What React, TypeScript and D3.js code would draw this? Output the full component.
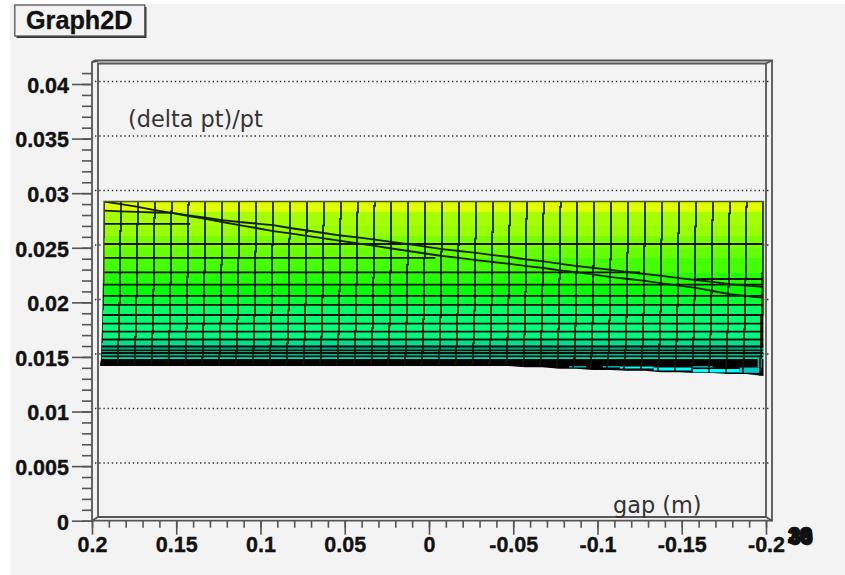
import { useEffect, useRef } from "react";
import * as d3 from "d3";

const width = 845;
const height = 575;

const titleText = "Graph2D";
const zAxisTitle = "(delta pt)/pt";
const gapAxisTitle = "gap (m)";
const depthLabels = ["30", "38", "36", "39", "33", "29", "35", "28"];
const depthShiftX = [0, 0.8, -0.6, 1.2, 0.4, -0.8, 1, 0.2];
const depthShiftY = [0, -0.8, 0.8, 0.4, -1.4, -0.4, 1.2, -1];

const zMajorTicks = [0, 0.005, 0.01, 0.015, 0.02, 0.025, 0.03, 0.035, 0.04];
const zMinorTicks = d3.range(0, 42).map(i => i / 1000);
const gapMajorTicks = [0.2, 0.15, 0.1, 0.05, 0, -0.05, -0.1, -0.15, -0.2];
const gapMinorTicks = d3.range(-20, 21).map(i => i / 100);

// grid columns of the surface
const gapValues = [
  0.19, 0.18, 0.17, 0.16, 0.15, 0.14, 0.13, 0.12, 0.11, 0.1,
  0.09, 0.08, 0.07, 0.06, 0.05, 0.04, 0.03, 0.02, 0.01, 0,
  -0.01, -0.02, -0.03, -0.04, -0.05, -0.06, -0.07, -0.08, -0.09, -0.1,
  -0.11, -0.12, -0.13, -0.14, -0.15, -0.16, -0.17, -0.18, -0.19, -0.2,
];

// the two sloped edges and the bottom edge of the sheet, in z
const upperEdge = [
  0.02899, 0.02876, 0.02849, 0.02821, 0.02794, 0.02771, 0.02752, 0.02729, 0.02711, 0.02697,
  0.02683, 0.02656, 0.02633, 0.0261, 0.02587, 0.02569, 0.0255, 0.02528, 0.02509, 0.02486,
  0.02463, 0.02445, 0.02427, 0.02408, 0.0239, 0.02367, 0.02349, 0.02326, 0.02307, 0.02289,
  0.02271, 0.02252, 0.02234, 0.02216, 0.02197, 0.02179, 0.02161, 0.02142, 0.02128, 0.02115,
];
const lowerEdge = [
  0.02815, 0.02809, 0.02803, 0.02798, 0.02794, 0.02766, 0.02739, 0.02711, 0.02683, 0.02656,
  0.02628, 0.02606, 0.02583, 0.0256, 0.02537, 0.02514, 0.02491, 0.02468, 0.02445, 0.02422,
  0.02399, 0.02381, 0.02362, 0.02344, 0.02326, 0.02307, 0.02289, 0.02266, 0.02248, 0.02229,
  0.02206, 0.02188, 0.0217, 0.02147, 0.02128, 0.02106, 0.02078, 0.0205, 0.02032, 0.02014,
];
const bottomEdge = [
  0.0139, 0.0139, 0.0139, 0.0139, 0.0139, 0.0139, 0.0139, 0.0139, 0.0139, 0.0139,
  0.0139, 0.0139, 0.0139, 0.0139, 0.0139, 0.0139, 0.0139, 0.0139, 0.0139, 0.0139,
  0.0139, 0.0139, 0.0139, 0.0139, 0.0139, 0.01378, 0.01378, 0.01365, 0.01365, 0.01353,
  0.01353, 0.01347, 0.01347, 0.01332, 0.01332, 0.01326, 0.01326, 0.01317, 0.01317, 0.01298,
];

// colour bands, each one runs from its z down to the next z
const bandZ = [
  0.02899, 0.02803, 0.02683, 0.02583, 0.02472, 0.02381, 0.02243, 0.02142, 0.02032, 0.0195,
  0.01858, 0.01775, 0.01702, 0.01628, 0.01583, 0.01537, 0.01509, 0.01477, 0.01454,
];
const bandColors = [
  "#e2ff00", "#a6ff00", "#99ff00", "#7aff00", "#66ff00", "#44ff00", "#22ff00", "#00ff00", "#00ff33",
  "#00ff66", "#00ff70", "#00ff80", "#00f884", "#00e08a", "#00a88c", "#00d8a0", "#00b8a0", "#00e0b0",
];

// mesh rows
const rowZ = [
  0.02693, 0.02509, 0.02381, 0.02248, 0.02188, 0.02136, 0.02034, 0.0195, 0.01858, 0.01778,
  0.01706, 0.01633, 0.01569, 0.01534, 0.01509, 0.01478,
];
const rowGapFrom = [0.19, 0.19, 0.19, 0.19, -0.161, 0.19, 0.19, 0.19, 0.19, 0.19, 0.19, 0.19, 0.19, 0.19, 0.19, 0.19];
const rowGapTo = [0.139, -0.2, -0.006, -0.127, -0.2, -0.2, -0.2, -0.2, -0.2, -0.2, -0.2, -0.2, -0.2, -0.2, -0.2, -0.2];

// cyan and teal bits under the black rows on the right
const patchFrom = [-0.085, -0.105, -0.115, -0.135, -0.158, -0.158, -0.186, -0.1965];
const patchTo = [-0.095, -0.115, -0.135, -0.158, -0.186, -0.17, -0.198, -0.199];
const patchTop = [0.0139, 0.0139, 0.01385, 0.01376, 0.01362, 0.0139, 0.01376, 0.0156];
const patchBottom = [0.01376, 0.01376, 0.01367, 0.01349, 0.01331, 0.01376, 0.01327, 0.01376];
const patchColor = ["#00b0b0", "#00b0b0", "#00ffff", "#00ffff", "#00ffff", "#00b0b0", "#00c8c8", "#00b8a0"];

const skewZ = [0.029, 0.019, 0.0145, 0.0139];
const skewPx = [0, -1.5, -3, -4];

const labelFont = "'Liberation Sans', Arial, sans-serif";
const plainFont = "'DejaVu Sans', sans-serif";
const axisColor = "#555";
const labelSize = "21.5px";

export default function App() {
  const ref = useRef<SVGSVGElement | null>(null);

  useEffect(() => {
    const svg = d3.select(ref.current!);
    svg.selectAll("*").remove();

    const zAxisScale = d3.scaleLinear().domain([0, 0.04]).range([520.7, 84]);
    const gapAxisScale = d3.scaleLinear().domain([0.2, -0.2]).range([92, 766]);
    // back wall sits a little higher than the axis
    const zScale = d3.scaleLinear().domain([0, 0.04]).range([517.5, 81.5]);
    const surfX = d3.scaleLinear().domain([0.19, -0.2]).range([104, 763.5]);
    const skew = d3.scaleLinear().domain(skewZ).range(skewPx).clamp(true);
    const colX = (gap: number, z: number) => Math.round(surfX(gap) + skew(z));

    svg.append("rect").attr("width", width).attr("height", height).attr("fill", "white");
    svg.append("rect").attr("x", 10).attr("y", 4)
      .attr("width", width - 10).attr("height", height - 4).attr("fill", "#f3f3f3");

    // dotted grid on the back wall
    svg.append("g").selectAll("line")
      .data(zMajorTicks.slice(1))
      .enter().append("line")
      .attr("x1", 95).attr("x2", 769)
      .attr("y1", d => zScale(d)).attr("y2", d => zScale(d))
      .attr("stroke", "#333")
      .attr("stroke-width", 1.3)
      .attr("stroke-dasharray", "1.4 2.8");

    // box
    const box = svg.append("g").attr("fill", "none").attr("stroke", axisColor).attr("stroke-width", 1.8);
    box.append("path").attr("d", "M98,517 V63.5 H766 V517 Z");
    box.append("path").attr("d", "M92,520.7 V62 L95,60.5 H772 V520.7 Z");
    box.append("path").attr("d", "M92,520.7 L98,517 M772,520.7 L766,517 M772,60.5 L766,63.5 M92,62 L98,61");

    // surface
    const topZ = bandZ[0];
    const outline = [
      ...bandZ.map(z => [surfX(0.19) + skew(z), zScale(z)]),
      [surfX(0.19) + skew(bottomEdge[0]), zScale(bottomEdge[0])],
      ...gapValues.map((g, i) => [surfX(g) + skew(bottomEdge[0]) * (1 - i / 39), zScale(bottomEdge[i])]),
      [surfX(-0.2), zScale(bottomEdge[39])],
      [surfX(-0.2), zScale(topZ)],
    ] as [number, number][];
    svg.append("clipPath").attr("id", "sheet")
      .append("path")
      .attr("d", d3.line().curve(d3.curveLinear)(outline));

    const sheet = svg.append("g").attr("clip-path", "url(#sheet)");
    sheet.append("rect")
      .attr("x", 95).attr("width", 680)
      .attr("y", zScale(bandZ[bandZ.length - 1]))
      .attr("height", 30)
      .attr("fill", "black");
    sheet.selectAll("rect.band")
      .data(bandColors)
      .enter().append("rect")
      .classed("band", true)
      .attr("x", 95).attr("width", 680)
      .attr("y", (_, i) => zScale(bandZ[i]))
      .attr("height", (_, i) => zScale(bandZ[i + 1]) - zScale(bandZ[i]))
      .attr("fill", d => d);
    sheet.selectAll("rect.patch")
      .data(patchColor)
      .enter().append("rect")
      .classed("patch", true)
      .attr("x", (_, i) => surfX(patchFrom[i]))
      .attr("width", (_, i) => surfX(patchTo[i]) - surfX(patchFrom[i]))
      .attr("y", (_, i) => zScale(patchTop[i]))
      .attr("height", (_, i) => zScale(patchBottom[i]) - zScale(patchTop[i]))
      .attr("fill", d => d);

    // rows
    sheet.selectAll("line.row")
      .data(rowZ)
      .enter().append("line")
      .classed("row", true)
      .attr("x1", (d, i) => surfX(rowGapFrom[i]) + skew(d))
      .attr("x2", (_, i) => surfX(rowGapTo[i]))
      .attr("y1", d => zScale(d))
      .attr("y2", d => zScale(d))
      .attr("stroke", "#041004")
      .attr("stroke-width", 1.8);

    // columns, the jogs come from rounding the skew to whole pixels
    const colLine = d3.line<[number, number]>()
      .x(d => colX(d[0], d[1]))
      .y(d => zScale(d[1]))
      .curve(d3.curveStepAfter);
    sheet.selectAll("path.col")
      .data(gapValues)
      .enter().append("path")
      .classed("col", true)
      .attr("d", (g, i) => colLine(
        d3.range(topZ, bottomEdge[i], -0.0001).map(z => [g, z] as [number, number])
      ))
      .attr("fill", "none")
      .attr("stroke", "#0c160a")
      .attr("stroke-width", 1.7);

    // black last column on the right
    sheet.append("line")
      .attr("x1", surfX(-0.2) - 1.7).attr("x2", surfX(-0.2) - 1.7)
      .attr("y1", zScale(0.01858)).attr("y2", zScale(0.0156))
      .attr("stroke", "black")
      .attr("stroke-width", 3.4);

    // sloped edges
    const edgeLine = d3.line<number>()
      .x((_, i) => surfX(gapValues[i]))
      .y(d => zScale(d));
    [upperEdge, lowerEdge].forEach(edge => {
      sheet.append("path")
        .attr("d", edgeLine(edge))
        .attr("fill", "none")
        .attr("stroke", "#102000")
        .attr("stroke-width", 1.8);
    });

    // gray rim of the sheet
    svg.append("path")
      .attr("d", `M${surfX(0.19)},${zScale(0.0215)} V${zScale(topZ)} H${surfX(-0.2)} V${zScale(0.0185)}`)
      .attr("fill", "none")
      .attr("stroke", "#4a5a20")
      .attr("stroke-width", 1.3);

    // axes
    const zAxisMinor = d3.axisLeft(zAxisScale).tickValues(zMinorTicks).tickSize(10).tickFormat(() => "");
    const zAxisMajor = d3.axisLeft(zAxisScale)
      .tickValues(zMajorTicks).tickSize(20).tickPadding(3)
      .tickFormat(d => String(+d));
    const gapAxisMinor = d3.axisBottom(gapAxisScale).tickValues(gapMinorTicks).tickSize(7).tickFormat(() => "");
    const gapAxisMajor = d3.axisBottom(gapAxisScale)
      .tickValues(gapMajorTicks).tickSize(14).tickPadding(2)
      .tickFormat(d => String(+d));

    const styleAxis = (g: d3.Selection<SVGGElement, unknown, null, undefined>) => {
      g.select(".domain").remove();
      g.selectAll("line").attr("stroke", axisColor).attr("stroke-width", 1.6);
      g.selectAll("text")
        .attr("fill", "#111")
        .attr("stroke", "#111")
        .attr("stroke-width", 0.35)
        .style("font-family", labelFont)
        .style("font-weight", "bold")
        .style("font-size", labelSize);
    };
    svg.append("g").attr("transform", "translate(92,0)").call(zAxisMinor).call(styleAxis);
    const zMajorGroup = svg.append("g").attr("transform", "translate(92,0)").call(zAxisMajor).call(styleAxis);
    zMajorGroup.selectAll("text").attr("dy", "0.39em");
    svg.append("g").attr("transform", "translate(0,520.7)").call(gapAxisMinor).call(styleAxis);
    svg.append("g").attr("transform", "translate(0,520.7)").call(gapAxisMajor).call(styleAxis);

    // depth axis labels all land on one spot
    svg.append("g").selectAll("text")
      .data(depthLabels)
      .enter().append("text")
      .attr("x", (_, i) => 788 + depthShiftX[i])
      .attr("y", (_, i) => 543.5 + depthShiftY[i])
      .attr("fill", "#111")
      .attr("stroke", "#111")
      .attr("stroke-width", 0.4)
      .style("font-family", labelFont)
      .style("font-weight", "bold")
      .style("font-size", labelSize)
      .text(d => d);

    // axis titles
    svg.append("text")
      .attr("x", 128).attr("y", 127)
      .attr("fill", "#333")
      .style("font-family", plainFont)
      .style("font-size", "22.4px")
      .text(zAxisTitle);
    svg.append("text")
      .attr("x", 613).attr("y", 513)
      .attr("fill", "#333")
      .style("font-family", plainFont)
      .style("font-size", "22.4px")
      .text(gapAxisTitle);

    // title box
    svg.append("rect")
      .attr("x", 16.5).attr("y", 7).attr("width", 130).attr("height", 31)
      .attr("fill", "#333");
    svg.append("rect")
      .attr("x", 14.8).attr("y", 5).attr("width", 130).attr("height", 31)
      .attr("fill", "#f3f3f3")
      .attr("stroke", axisColor)
      .attr("stroke-width", 1.3);
    svg.append("text")
      .attr("x", 26).attr("y", 29)
      .attr("fill", "#111")
      .attr("stroke", "#111")
      .attr("stroke-width", 0.3)
      .style("font-family", labelFont)
      .style("font-weight", "bold")
      .style("font-size", "25.2px")
      .text(titleText);
  }, []);

  return (
    <svg
      ref={ref}
      width={width}
      height={height}
      style={{ position: "absolute", top: 0, left: 0, display: "block" }}
    />
  );
}
